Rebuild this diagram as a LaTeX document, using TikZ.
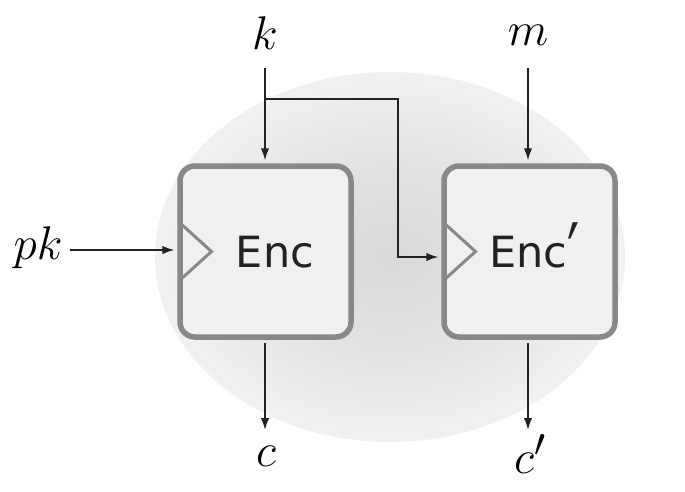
\documentclass[tikz,border=0pt]{standalone}
\usepackage{graphicx}
\usepackage{fontspec}
\newfontfamily\encfont{DejaVu Sans}
\usetikzlibrary{arrows.meta,calc}
\definecolor{ellin}{HTML}{D9D9D9}
\definecolor{ellmid}{HTML}{E2E2E2}
\definecolor{ellout}{HTML}{F1F1F1}
\definecolor{boxfill}{HTML}{F0F0F0}
\definecolor{boxline}{HTML}{888888}
\definecolor{ink}{HTML}{222222}
\pgfdeclareradialshading{ellshade}{\pgfpoint{0bp}{0bp}}{color(0bp)=(ellin); color(12bp)=(ellmid); color(25bp)=(ellout); color(50bp)=(ellout)}
\begin{document}
\begin{tikzpicture}[x=1pt,y=-1pt,
  blk/.style={draw=boxline, fill=boxfill, line width=5.5pt, rounded corners=15pt,
    minimum width=171pt, minimum height=171pt, inner sep=0pt},
  clk/.style={draw=boxline, line width=3pt, line join=miter},
  lbl/.style={inner sep=0pt, scale=1.9, font=\fontsize{24.88}{30}\selectfont},
  enctxt/.style={inner sep=0pt, font=\encfont\fontsize{43}{48}\selectfont, text=ink},
  wire/.style={draw=ink, line width=1.5pt, -{Latex[length=12pt,width=8.5pt]}}]
\useasboundingbox (0,0) rectangle (685,491);
\shade[shading=ellshade] (390,257) ellipse [x radius=235, y radius=185];
\node[blk] (enc) at (265.5,251.5) {};
\node[blk] (encp) at (529.5,251.5) {};
\draw[clk] ($(enc.center)+(-85.5,-28.5)$) -- ($(enc.center)+(-54,0)$) -- ($(enc.center)+(-85.5,28.5)$);
\draw[clk] ($(encp.center)+(-85.5,-28.5)$) -- ($(encp.center)+(-54,0)$) -- ($(encp.center)+(-85.5,28.5)$);
\node[enctxt, anchor=base] (enct) at (275,267) {Enc};
\node[enctxt, anchor=base west] (encpt) at (489,267) {Enc\kern0.01em\raisebox{-0.5em}{\scalebox{1.25}[2.1]{′}}};
\node[lbl] (k) at (265,33) {$k$};
\node[lbl] (m) at (528,35) {$m$};
\node[lbl] (pk) at (38,248) {$pk$};
\node[lbl] (c) at (266,456) {$c$};
\node[lbl] (cp) at (530,454) {$c'$};
\coordinate (ks) at (265,68);
\coordinate (ms) at (528,68);
\coordinate (br) at (265,99);
\coordinate (pks) at (70,250);
\draw[wire] (ks) -- ($(ks |- enc.north)+(0,-3)$);
\draw[wire] (ms) -- ($(ms |- encp.north)+(0,-3)$);
\draw[wire] (br) -- (398,99) -- (398,257) -- ($(encp.west |- 0,257)+(-3,0)$);
\draw[wire] (pks) -- ($(enc.west |- 0,250)+(-3,0)$);
\draw[wire] ($(enc.south -| 265,0)+(0,3)$) -- (265,430);
\draw[wire] ($(encp.south -| 528,0)+(0,3)$) -- (528,430);
\end{tikzpicture}
\end{document}
